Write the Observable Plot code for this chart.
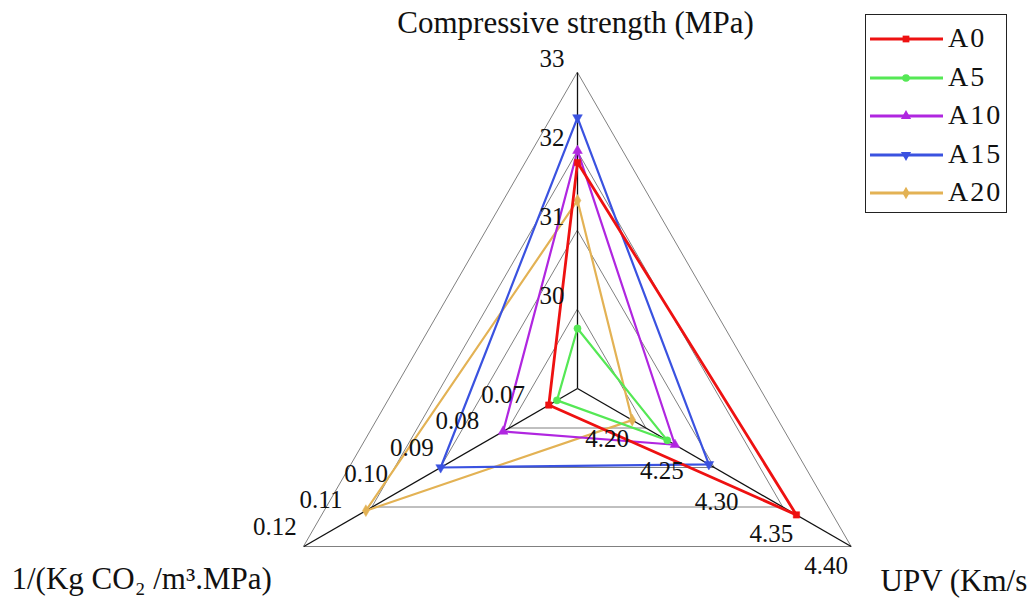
<!DOCTYPE html>
<html><head><meta charset="utf-8">
<script src="https://cdn.jsdelivr.net/npm/d3@7"></script>
<script src="https://cdn.jsdelivr.net/npm/@observablehq/plot@0.6"></script>
<style>
body{margin:0;background:#fff;}
#wrap{position:relative;width:1031px;height:599px;overflow:hidden;font-family:"Liberation Serif","Times New Roman",serif;}
#wrap svg text{font-family:"Liberation Serif","Times New Roman",serif !important;}
#legend{position:absolute;left:865px;top:14px;width:142px;height:199px;border:1.5px solid #222;box-sizing:border-box;background:#fff;}
.item{position:absolute;left:0;height:30px;width:140px;}
.item svg{position:absolute;left:2px;top:0;}
.item span{position:absolute;left:82px;top:-3px;font-size:28px;letter-spacing:2px;line-height:34px;color:#111;}
</style></head><body><div id="wrap"></div>
<script>
// ---- data ----
const series = ["A0", "A5", "A10", "A15", "A20"];
const compressive = [31.86, 29.76, 32.01, 32.43, 31.38];   // MPa
const upv = [4.35, 4.232, 4.239, 4.27, 4.20];               // Km/s
const co2 = [0.0663, 0.0645, 0.0763, 0.090, 0.1064];        // 1/(Kg CO2/m3.MPa)
const axisTitles = ["Compressive strength (MPa)", "UPV (Km/s", "1/(Kg CO\u2082 /m\u00b3.MPa)"];
const compTicks = [30, 31, 32, 33];
const upvTicks = [4.20, 4.25, 4.30, 4.35, 4.40];
const co2Ticks = [0.07, 0.08, 0.09, 0.10, 0.11, 0.12];
const compDomain = [29, 33];
const upvDomain = [4.15, 4.40];
const co2Domain = [0.06, 0.12];

// ---- styling ----
const colors = ["#ee1111", "#55e855", "#b026e0", "#3a52e0", "#e3b254"];
const triangleDown = {draw(ctx, size) {
  const y = -Math.sqrt(size / (Math.sqrt(3) * 3));
  ctx.moveTo(0, -y * 2); ctx.lineTo(-Math.sqrt(3) * y, y); ctx.lineTo(Math.sqrt(3) * y, y); ctx.closePath();
}};
const symbols = [d3.symbolSquare, d3.symbolCircle, d3.symbolTriangle, triangleDown, d3.symbolDiamond];

const W = 1031, H = 599, cx = 577, cy = 388, R = 316;

const axes = [
  {scale: d3.scaleLinear(compDomain, [0, 1]), angle: 0},
  {scale: d3.scaleLinear(upvDomain, [0, 1]), angle: 2 * Math.PI / 3},
  {scale: d3.scaleLinear(co2Domain, [0, 1]), angle: 4 * Math.PI / 3}
];
const px = (a, f) => f * Math.sin(axes[a].angle);
const py = (a, f) => f * Math.cos(axes[a].angle);

// rings at compressive ticks (chart major unit)
const rings = compTicks.flatMap((t, ri) => axes.map((ax, a) => ({ring: ri, a, f: axes[0].scale(t)})));
const spokes = axes.map((ax, a) => ({a, f: 1}));

const values = [compressive, upv, co2];
const points = series.flatMap((s, i) => values.map((vals, a) => ({s, i, a, f: axes[a].scale(vals[i])})));

const tickLabels = (ticks, a, fmt) => ticks.map(t => ({a, f: axes[a].scale(t), label: fmt(t)}));
const compLabels = tickLabels(compTicks, 0, d => String(d));
const upvLabels = tickLabels(upvTicks, 1, d => d.toFixed(2));
const co2Labels = tickLabels(co2Ticks, 2, d => d.toFixed(2));

const X = d => px(d.a, d.f), Y = d => py(d.a, d.f);

const marks = [
  Plot.line(rings, {x: X, y: Y, z: "ring", curve: "linear-closed", stroke: "#808080", strokeWidth: 1}),
  Plot.link(spokes, {x1: 0, y1: 0, x2: X, y2: Y, stroke: "#111", strokeWidth: 1.3}),
];
for (let i = series.length - 1; i >= 0; i--) {
  const pts = points.filter(p => p.i === i);
  marks.push(Plot.line(pts, {x: X, y: Y, curve: "linear-closed", stroke: colors[i], strokeWidth: i === 0 ? 2.8 : 2.2}));
  marks.push(Plot.dot(pts, {x: X, y: Y, symbol: symbols[i], fill: colors[i], stroke: colors[i], strokeWidth: 0.5, r: 3.6}));
}
const fontFamily = "Liberation Serif";
marks.push(
  Plot.text(compLabels, {x: X, y: Y, text: "label", textAnchor: "end", lineAnchor: "bottom", dx: -13, dy: -6, fontSize: 25, fontFamily, fill: "#111"}),
  Plot.text(upvLabels, {x: X, y: Y, text: "label", textAnchor: "start", lineAnchor: "bottom", dx: -47, dy: 27, fontSize: 25, fontFamily, fill: "#111"}),
  Plot.text(co2Labels, {x: X, y: Y, text: "label", textAnchor: "end", lineAnchor: "bottom", dx: -7, dy: -12, fontSize: 25, fontFamily, fill: "#111"}),
  Plot.text([axisTitles[0]], {x: 0, y: py(0, 1), text: d => d, textAnchor: "middle", lineAnchor: "bottom", dx: -2, dy: -40, fontSize: 31, fontFamily, fill: "#111"}),
  Plot.text([axisTitles[2]], {frameAnchor: "bottom-left", text: d => d, textAnchor: "start", lineAnchor: "bottom", dx: 11, dy: -11, fontSize: 31, fontFamily, fill: "#111"}),
  Plot.text([axisTitles[1]], {frameAnchor: "bottom-right", text: d => d, textAnchor: "start", lineAnchor: "bottom", dx: -151, dy: -9, fontSize: 31, fontFamily, fill: "#111"})
);

const chart = Plot.plot({
  width: W, height: H, margin: 0,
  x: {domain: [-cx / R, (W - cx) / R], range: [0, W], axis: null},
  y: {domain: [(cy - H) / R, cy / R], range: [H, 0], axis: null},
  style: {background: "white", fontFamily},
  marks
});
const wrap = document.getElementById("wrap");
wrap.appendChild(chart);

// legend
const legend = document.createElement("div");
legend.id = "legend";
series.forEach((s, i) => {
  const item = document.createElement("div");
  item.className = "item";
  item.style.top = (9 + i * 38.6) + "px";
  const svg = d3.create("svg").attr("width", 78).attr("height", 30);
  svg.append("line").attr("x1", 2).attr("x2", 75).attr("y1", 15).attr("y2", 15).attr("stroke", colors[i]).attr("stroke-width", 2.8);
  svg.append("path").attr("d", d3.symbol(symbols[i], Math.PI * 3.8 * 3.8)()).attr("transform", "translate(38,15)").attr("fill", colors[i]);
  item.appendChild(svg.node());
  const span = document.createElement("span");
  span.textContent = s;
  item.appendChild(span);
  legend.appendChild(item);
});
wrap.appendChild(legend);
</script>
</body></html>
